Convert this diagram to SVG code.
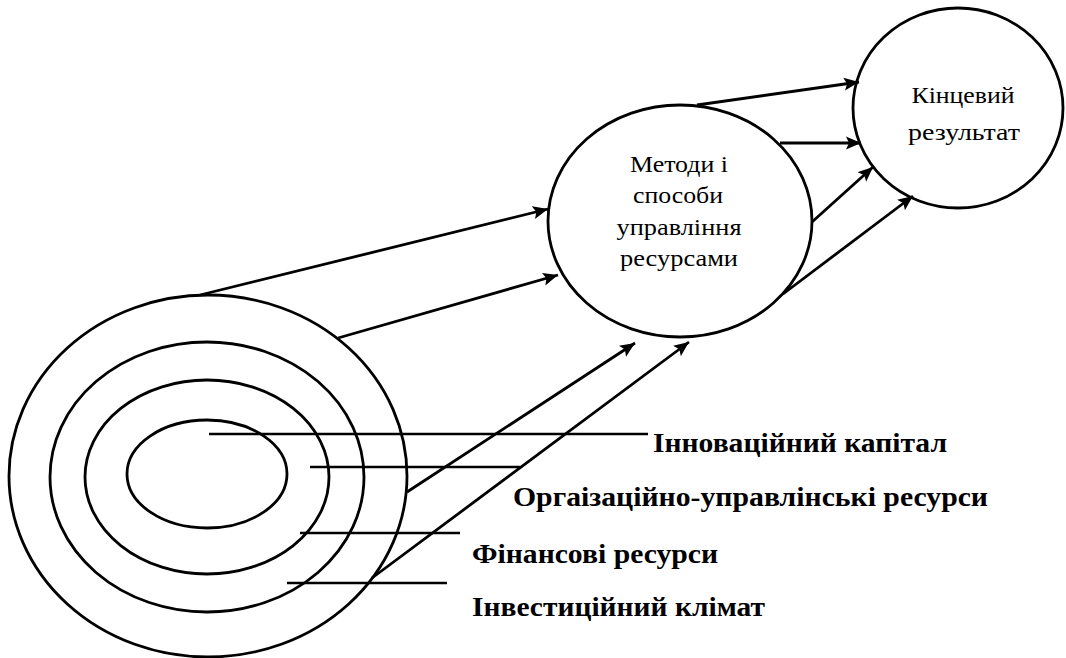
<svg xmlns="http://www.w3.org/2000/svg" width="1066" height="658" viewBox="0 0 1066 658">
  <defs>
    <marker id="arr" markerUnits="userSpaceOnUse" markerWidth="18" markerHeight="14" refX="15" refY="7" orient="auto">
      <path d="M0,0.5 L15,7 L0,13.5 L3,7 Z" fill="#000"/>
    </marker>
  </defs>
  <style>
    .shape { fill: #fff; stroke: #000; stroke-width: 2.8; }
    .ring { fill: none; stroke: #000; stroke-width: 2.8; }
    .lead { stroke: #000; stroke-width: 2.6; fill: none; }
    .conn { stroke: #000; stroke-width: 2.8; fill: none; marker-end: url(#arr); }
    .node { font-family: "Liberation Serif", "Times New Roman", serif; font-size: 24px; fill: #000; text-anchor: middle; }
    .lab { font-family: "Liberation Serif", "Times New Roman", serif; font-size: 27px; font-weight: bold; fill: #000; }
  </style>
  <rect width="1066" height="658" fill="#fff"/>

  <g id="resources">
    <ellipse class="ring" cx="208" cy="476" rx="199" ry="181"/>
    <ellipse class="ring" cx="207" cy="477" rx="157" ry="135"/>
    <ellipse class="ring" cx="207" cy="477" rx="122" ry="97"/>
    <ellipse class="ring" cx="207" cy="474" rx="80" ry="54"/>
  </g>

  <g id="methods">
    <ellipse class="shape" cx="680" cy="221" rx="132" ry="116"/>
    <text class="node" x="679" y="172" textLength="98" lengthAdjust="spacingAndGlyphs">Методи і</text>
    <text class="node" x="678" y="203" textLength="90" lengthAdjust="spacingAndGlyphs">способи</text>
    <text class="node" x="679" y="235" textLength="125" lengthAdjust="spacingAndGlyphs">управління</text>
    <text class="node" x="679" y="266" textLength="118" lengthAdjust="spacingAndGlyphs">ресурсами</text>
  </g>

  <g id="result">
    <ellipse class="shape" cx="958" cy="108" rx="105" ry="100"/>
    <text class="node" x="963" y="103" textLength="103" lengthAdjust="spacingAndGlyphs">Кінцевий</text>
    <text class="node" x="964" y="140" textLength="112" lengthAdjust="spacingAndGlyphs">результат</text>
  </g>

  <g id="connectors">
    <line class="conn" x1="200" y1="295" x2="548" y2="209"/>
    <line class="conn" x1="338" y1="338" x2="558" y2="275"/>
    <line class="conn" x1="407" y1="492" x2="635" y2="343"/>
    <line class="conn" x1="372" y1="578" x2="689" y2="342"/>
    <line class="conn" x1="697" y1="105" x2="859" y2="82"/>
    <line class="conn" x1="780" y1="143" x2="861" y2="143"/>
    <line class="conn" x1="812" y1="222" x2="873" y2="167"/>
    <line class="conn" x1="783" y1="294" x2="913" y2="196"/>
  </g>

  <g id="labels">
    <line class="lead" x1="209" y1="434" x2="648" y2="434"/>
    <line class="lead" x1="310" y1="467" x2="520" y2="467"/>
    <line class="lead" x1="300" y1="533" x2="460" y2="533"/>
    <line class="lead" x1="287" y1="583" x2="447" y2="583"/>
    <text class="lab" x="653" y="452" textLength="294" lengthAdjust="spacingAndGlyphs">Інноваційний капітал</text>
    <text class="lab" x="513" y="506" textLength="475" lengthAdjust="spacingAndGlyphs">Оргаізаційно-управлінські ресурси</text>
    <text class="lab" x="472" y="563" textLength="246" lengthAdjust="spacingAndGlyphs">Фінансові ресурси</text>
    <text class="lab" x="472" y="616" textLength="293" lengthAdjust="spacingAndGlyphs">Інвестиційний клімат</text>
  </g>
</svg>
